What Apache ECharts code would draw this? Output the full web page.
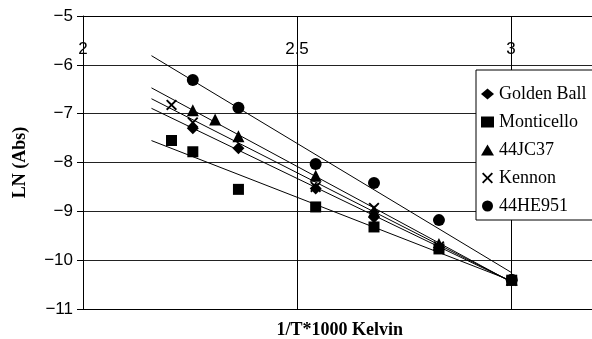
<!DOCTYPE html>
<html>
<head>
<meta charset="utf-8">
<script src="https://cdn.jsdelivr.net/npm/echarts@6/dist/echarts.min.js"></script>
<style>
  html, body { margin: 0; padding: 0; background: #fff; }
  #chart { width: 592px; height: 339px; }
</style>
</head>
<body>
<div id="chart"></div>
<script>
// Reciprocal temperature (1000/T, T in Kelvin) for 180, 170, 160, 150, 120, 100, 80, 60 °C
const invT = [2.2068, 2.2566, 2.3087, 2.3632, 2.5436, 2.6799, 2.8317, 3.0017];

// LN(absorbance) per sample, aligned with invT (null = not measured)
const goldenBall = [null, -7.30, null, -7.71, -8.53, -9.12, -9.74, -10.41];
const monticello = [-7.55, -7.78, null, -8.55, -8.91, -9.32, -9.77, -10.41];
const jc37       = [null, -6.93, -7.12, -7.46, -8.27, -9.00, -9.67, -10.40];
const kennon     = [-6.82, -7.18, null, null, -8.50, -8.93, -9.72, -10.42];
const he951      = [null, -6.31, null, -6.88, -8.03, -8.42, -9.18, -10.40];

const seriesNames = ['Golden Ball', 'Monticello', '44JC37', 'Kennon', '44HE951'];
const seriesValues = [goldenBall, monticello, jc37, kennon, he951];

const xTicks = [2, 2.5, 3];
const yTicks = [-11, -10, -9, -8, -7, -6, -5];

// Trend lines start a little before the first measurement
const trendStart = 2.16;

const crossPath = 'path://M0,1.2L1.2,0L5,3.8L8.8,0L10,1.2L6.2,5L10,8.8L8.8,10L5,6.2L1.2,10L0,8.8L3.8,5Z';
const symbols = ['diamond', 'rect', 'triangle', crossPath, 'circle'];
const symbolSizes = [12, 11, 12, 11, 12];

function pairs(values) {
  const out = [];
  values.forEach((v, i) => { if (v !== null) out.push([invT[i], v]); });
  return out;
}

function linearFit(pts) {
  const n = pts.length;
  const mx = pts.reduce((s, p) => s + p[0], 0) / n;
  const my = pts.reduce((s, p) => s + p[1], 0) / n;
  let sxy = 0, sxx = 0;
  pts.forEach(p => { sxy += (p[0] - mx) * (p[1] - my); sxx += (p[0] - mx) * (p[0] - mx); });
  const slope = sxy / sxx;
  return x => my + slope * (x - mx);
}

const series = [];
seriesValues.forEach((vals, k) => {
  const pts = pairs(vals);
  const fit = linearFit(pts);
  const xEnd = Math.max(...pts.map(p => p[0]));
  series.push({
    name: seriesNames[k] + ' trend',
    type: 'line',
    xAxisIndex: 0,
    data: [[trendStart, fit(trendStart)], [xEnd, fit(xEnd)]],
    symbol: 'none',
    silent: true,
    lineStyle: { color: '#000', width: 1 },
    z: 2
  });
});
seriesValues.forEach((vals, k) => {
  series.push({
    name: seriesNames[k],
    type: 'scatter',
    xAxisIndex: 0,
    data: pairs(vals),
    symbol: symbols[k],
    symbolSize: symbolSizes[k],
    itemStyle: { color: '#000', opacity: 1 },
    z: 3 + k
  });
});

const minus = v => (v < 0 ? '\u2212' + Math.abs(v) : String(v));

const chart = echarts.init(document.getElementById('chart'), null, { renderer: 'canvas' });
chart.setOption({
  animation: false,
  backgroundColor: '#fff',
  grid: { left: 83, top: 16, width: 513.6, height: 293, containLabel: false, outerBoundsMode: 'none' },
  xAxis: [
    {
      type: 'value', position: 'top',
      min: xTicks[0], max: 3.2, interval: 0.5,
      axisLine: { show: true, onZero: false, lineStyle: { color: '#000', width: 1 } },
      axisTick: { show: false },
      axisLabel: {
        inside: true, margin: 25,
        fontFamily: 'Liberation Sans', fontSize: 17, color: '#000',
        formatter: v => (xTicks.includes(v) ? String(v) : '')
      },
      splitLine: { show: true, lineStyle: { color: '#000', width: 1 } }
    },
    {
      type: 'value', position: 'bottom',
      min: xTicks[0], max: 3.2,
      axisLine: { show: true, onZero: false, lineStyle: { color: '#000', width: 1 } },
      axisTick: { show: false },
      axisLabel: { show: false },
      splitLine: { show: false },
      name: '1/T*1000 Kelvin', nameLocation: 'middle', nameGap: 12,
      nameTextStyle: { fontFamily: 'Liberation Serif', fontWeight: 'bold', fontSize: 18, color: '#000' }
    }
  ],
  yAxis: {
    type: 'value',
    min: yTicks[0], max: yTicks[yTicks.length - 1], interval: 1,
    axisLine: { show: true, onZero: false, lineStyle: { color: '#000', width: 1 } },
    axisTick: { show: true, length: 6, lineStyle: { color: '#000' } },
    axisLabel: { margin: 10, fontFamily: 'Liberation Sans', fontSize: 17, color: '#000', formatter: minus },
    splitLine: { show: true, lineStyle: { color: '#222', width: 1 } },
    name: 'LN (Abs)', nameLocation: 'middle', nameGap: 54,
    nameTextStyle: { fontFamily: 'Liberation Serif', fontWeight: 'bold', fontSize: 18, color: '#000' }
  },
  legend: {
    data: seriesNames.map((n, k) => ({ name: n, icon: symbols[k] })),
    orient: 'vertical',
    left: 476, top: 70,
    padding: [15, 40, 5, 5],
    itemGap: 10,
    itemWidth: 13, itemHeight: 11,
    backgroundColor: '#fff',
    borderColor: '#000', borderWidth: 1,
    textStyle: { fontFamily: 'Liberation Serif', fontSize: 18, color: '#000' },
    itemStyle: { color: '#000', opacity: 1 }
  },
  series: series
});
</script>
</body>
</html>
